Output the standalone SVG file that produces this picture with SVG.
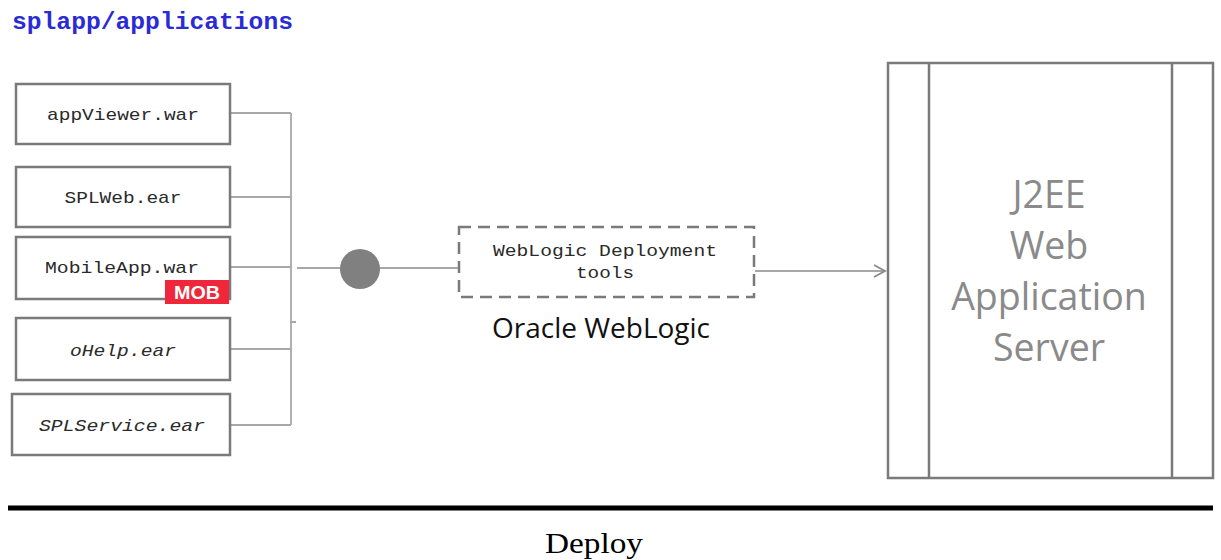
<svg xmlns="http://www.w3.org/2000/svg" width="1221" height="560" viewBox="0 0 1221 560">
<style>
.box{fill:#fff;stroke:#7a7a7a;stroke-width:2.5}
.mono{font-family:"Liberation Mono","DejaVu Sans Mono",monospace;fill:#2a2a2a;font-size:17px;text-anchor:middle}
.conn{stroke:#a8a8a8;stroke-width:1.8;fill:none}
</style>
<defs>
<marker id="arr" markerWidth="14" markerHeight="14" refX="12" refY="7" orient="auto" markerUnits="userSpaceOnUse">
<path d="M1,1 L12,7 L1,13" fill="none" stroke="#8a8a8a" stroke-width="1.8"/>
</marker>
</defs>
<rect width="1221" height="560" fill="#fff"/>
<text x="12" y="29" font-family="Liberation Mono,monospace" font-size="23" font-weight="bold" fill="#2b2bd6" textLength="281" lengthAdjust="spacingAndGlyphs">splapp/applications</text>
<g id="connectors">
<path class="conn" d="M230,113 H291 M230,197 H291 M230,267 H291 M230,349 H291 M230,425 H291 M291,113 V425 M291,322 H296"/>
<path class="conn" d="M297,268 H458"/>
<path class="conn" d="M755,271 H885" marker-end="url(#arr)"/>
</g>
<g id="appViewer">
<rect class="box" x="16" y="84" width="214" height="60"/>
<text class="mono" x="123" y="120" textLength="152" lengthAdjust="spacingAndGlyphs">appViewer.war</text>
</g>
<g id="SPLWeb">
<rect class="box" x="16" y="167" width="214" height="60"/>
<text class="mono" x="123" y="203" textLength="117" lengthAdjust="spacingAndGlyphs">SPLWeb.ear</text>
</g>
<g id="MobileApp">
<rect class="box" x="16" y="237" width="214" height="62"/>
<text class="mono" x="122" y="273" textLength="154" lengthAdjust="spacingAndGlyphs">MobileApp.war</text>
<rect x="165" y="280" width="64" height="24" fill="#f0273a"/>
<text x="197" y="299" font-family="Liberation Sans,Arial,sans-serif" font-weight="bold" font-size="18" fill="#fff" text-anchor="middle" textLength="46" lengthAdjust="spacingAndGlyphs">MOB</text>
</g>
<g id="oHelp">
<rect class="box" x="16" y="318" width="214" height="62"/>
<text class="mono" x="123" y="356" font-style="italic" textLength="106" lengthAdjust="spacingAndGlyphs">oHelp.ear</text>
</g>
<g id="SPLService">
<rect class="box" x="12" y="394" width="218" height="61"/>
<text class="mono" x="122" y="431" font-style="italic" textLength="166" lengthAdjust="spacingAndGlyphs">SPLService.ear</text>
</g>
<g id="junction">
<circle cx="360" cy="269" r="20" fill="#808080"/>
</g>
<g id="weblogic">
<rect x="459" y="227" width="295" height="70" fill="#fff" stroke="#7a7a7a" stroke-width="2.5" stroke-dasharray="12,7"/>
<text class="mono" x="605" y="256" textLength="224" lengthAdjust="spacingAndGlyphs">WebLogic Deployment</text>
<text class="mono" x="605" y="278" textLength="58" lengthAdjust="spacingAndGlyphs">tools</text>
<text x="601" y="338" font-family="Open Sans,Noto Sans,sans-serif" font-size="27" fill="#111" text-anchor="middle" textLength="218" lengthAdjust="spacingAndGlyphs">Oracle WebLogic</text>
</g>
<g id="j2ee">
<rect class="box" x="888" y="63" width="325" height="415"/>
<line x1="929" y1="63" x2="929" y2="478" stroke="#7a7a7a" stroke-width="2.5"/>
<line x1="1172" y1="63" x2="1172" y2="478" stroke="#7a7a7a" stroke-width="2.5"/>
<g font-family="Open Sans,Noto Sans,sans-serif" font-size="37.5" fill="#8a8a8a" text-anchor="middle">
<text x="1049" y="208">J2EE</text>
<text x="1049" y="259">Web</text>
<text x="1049" y="310">Application</text>
<text x="1049" y="361">Server</text>
</g>
</g>
<line x1="8" y1="508" x2="1213" y2="508" stroke="#000" stroke-width="5"/>
<text x="594" y="553" font-family="Liberation Serif,Times New Roman,serif" font-size="30" fill="#000" text-anchor="middle" textLength="98" lengthAdjust="spacingAndGlyphs">Deploy</text>
</svg>
